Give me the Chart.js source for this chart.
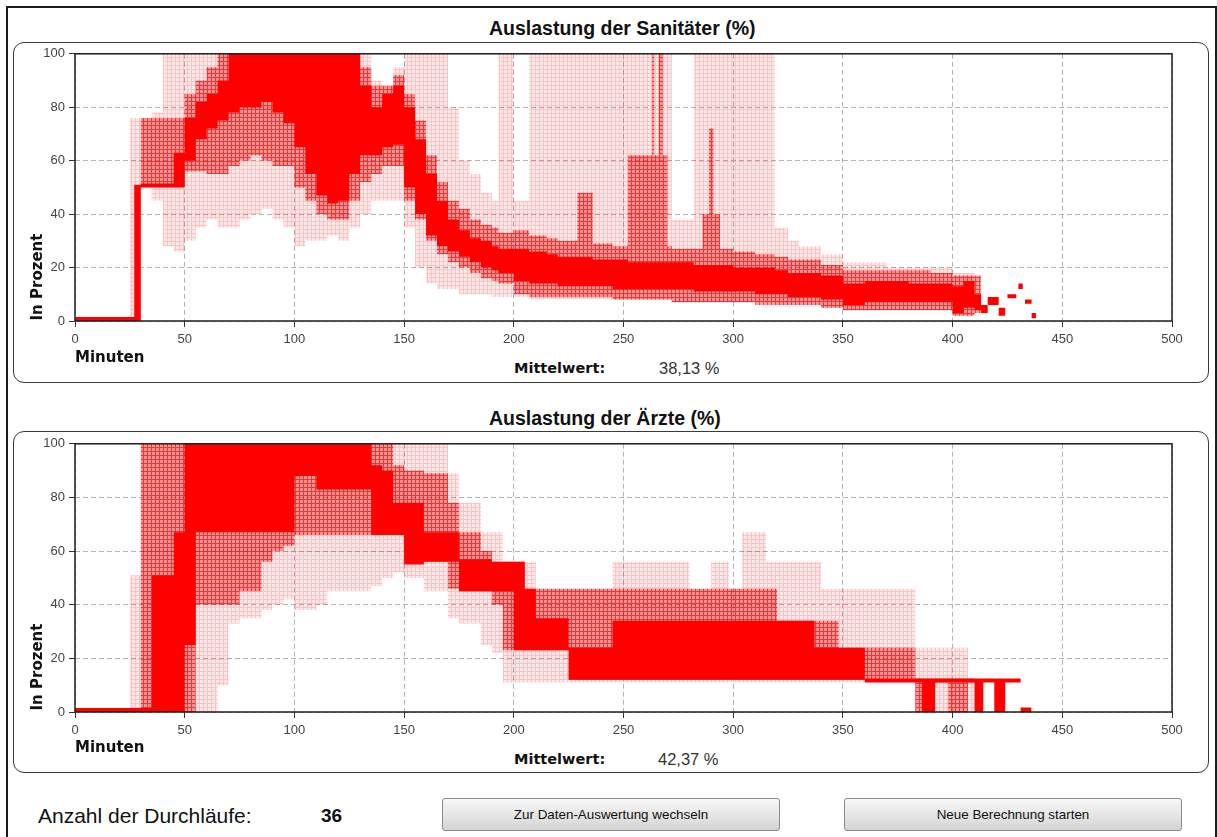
<!DOCTYPE html>
<html><head><meta charset="utf-8">
<script src="https://cdn.jsdelivr.net/npm/chart.js@4"></script>
<style>
body{margin:0;width:1217px;height:837px;background:#fff;position:relative;overflow:hidden;font-family:"Liberation Sans",Arial,sans-serif;color:#111}
.abs{position:absolute;white-space:nowrap;line-height:1}
.frame{position:absolute;left:6px;top:6px;width:1211px;height:900px;box-sizing:border-box;border:2px solid #1c1c1c}
.panel{position:absolute;left:13px;width:1196px;box-sizing:border-box;border:1.5px solid #3a3a3a;border-radius:11px}
.title{font-weight:bold;font-size:19.5px;transform:translateY(-50%);left:489px}
.axl{font-family:"DejaVu Sans",sans-serif;font-weight:bold;font-size:15px;transform:translateY(-50%)}
.mw{font-family:"DejaVu Sans",sans-serif;font-weight:bold;font-size:14.5px;transform:translateY(-50%)}
.val{font-size:16.5px;color:#333;transform:translateY(-50%)}
.yl{font-family:"DejaVu Sans",sans-serif;font-weight:bold;font-size:15px;transform:translate(-50%,-50%) rotate(-90deg)}
.btn{position:absolute;top:798px;height:33px;width:338px;box-sizing:border-box;border:1px solid #8c8c8c;border-radius:3px;background:linear-gradient(#f8f8f8,#e6e6e6 50%,#d4d4d4);font-size:13.4px;display:flex;align-items:center;justify-content:center;color:#111}
canvas{position:absolute}
</style></head><body>
<div class="frame"></div>
<div class="abs title" style="top:29px">Auslastung der Sanitäter (%)</div>
<div class="panel" style="top:42px;height:341px"></div>
<div class="abs title" style="top:419px">Auslastung der Ärzte (%)</div>
<div class="panel" style="top:431px;height:342px"></div>

<canvas id="c1" width="1170" height="309" style="left:20px;top:42px"></canvas>
<canvas id="c2" width="1170" height="310" style="left:20px;top:432px"></canvas>

<div class="abs axl" style="left:75px;top:357px">Minuten</div>
<div class="abs yl" style="left:37px;top:277px">In Prozent</div>
<div class="abs mw" style="left:514px;top:368px">Mittelwert:</div>
<div class="abs val" style="left:659px;top:368px">38,13 %</div>

<div class="abs axl" style="left:75px;top:747px">Minuten</div>
<div class="abs yl" style="left:37px;top:667px">In Prozent</div>
<div class="abs mw" style="left:514px;top:759px">Mittelwert:</div>
<div class="abs val" style="left:658px;top:759px">42,37 %</div>

<div class="abs" style="left:38px;top:815px;font-size:21px;transform:translateY(-50%)">Anzahl der Durchläufe:</div>
<div class="abs" style="left:321px;top:815px;font-size:19px;font-weight:bold;transform:translateY(-50%)">36</div>
<div class="btn" style="left:442px">Zur Daten-Auswertung wechseln</div>
<div class="btn" style="left:844px">Neue Berechnung starten</div>

<script>
// ---- Auslastung der Sanitäter (%) : envelopes of 36 runs ----
const sanMinutes = [0,25,27,30,35,40,45,50,55,60,65,70,75,80,85,90,95,100,105,110,115,120,125,130,135,140,145,150,155,160,165,170,175,180,185,190,193,200,207,215,220,229,236,245,252,263,264,266,268,270,272,282,286,289,291,294,300,310,319,325,330,340,350,360,370,380,390,400,405,410,413,416,421,424,425,429,430,432,433,436,438];
const sanLightLo = [0,1.5,40,51,45,28,26,30,35,38,35,35,38,40,42,38,35,28,30,30,32,30,35,40,45,45,45,35,20,14,12,12,10,10,10,9,9,9,8,8,8,8,8,8,8,8,8,8,8,8,7,7,7,7,7,7,7,7,6,6,6,5,4,4,4,4,4,2,2,0,0,0,0,0,0,0,0,0,0,0,0];
const sanLightHi = [0,76,76,76,78,100,100,100,100,100,100,100,100,100,100,100,100,100,100,100,100,100,100,100,90,88,95,100,100,100,100,80,60,55,48,45,100,45,100,100,100,100,100,100,100,100,100,100,100,100,38,100,100,100,100,100,100,100,35,30,28,25,22,22,20,20,20,18,18,0,0,0,0,0,0,0,0,0,0,0,0];
const sanMidLo   = [0,0,0,51,51,51,51,56,56,55,55,58,60,62,60,58,58,50,45,40,38,38,45,52,55,58,58,45,38,30,25,22,20,18,16,15,14,10,9,9,9,9,9,8,8,8,8,8,8,8,7,7,7,7,7,7,7,6,6,6,6,5,4,4,4,4,4,2,2,3,0,0,0,0,0,0,0,0,0,0,0];
const sanMidHi   = [0,0,0,76,76,76,76,85,90,95,100,100,100,100,100,100,100,100,100,100,100,100,100,95,88,88,92,85,75,62,52,45,42,38,36,35,33,34,32,31,30,48,29,28,62,100,62,100,62,28,27,27,40,72,40,27,26,25,24,23,23,21,19,19,19,19,18,17,17,17,0,0,0,0,0,0,0,0,0,0,0];
const sanCoreLo  = [0,0,0,50,50,50,50,60,68,72,75,78,80,80,82,78,74,65,55,47,44,45,55,62,62,65,66,50,40,32,28,26,24,22,20,19,18,15,14,14,13,13,13,12,12,12,12,12,12,12,12,11,11,11,11,11,11,10,10,9,9,8,6,7,7,7,7,3,5,4,3,6,2,0,8.5,0,12,0,6.5,1,0];
const sanCoreHi  = [1.5,1.5,51,51.5,51.5,51.5,63,76,82,85,90,100,100,100,100,100,100,100,100,100,100,100,100,88,80,85,88,80,68,55,45,38,34,31,30,28,27,27,26,25,24,24,23,23,22,22,22,22,22,22,22,21,21,21,21,21,20,20,19,18,18,17,14,15,15,14,14,13,15,10,6,9,5,0,10,0,14,0,8,3,0];

// ---- Auslastung der Ärzte (%) ----
const arzMinutes = [0,25,30,35,45,50,55,65,70,75,85,90,95,100,110,115,135,140,145,150,159,170,175,185,190,195,200,205,210,225,245,280,290,298,304,315,320,337,340,348,360,383,386,392,398,407,410,414,419,424,431,436];
const arzLightLo = [0,0,0,0,0,0,0,10,33,35,38,40,42,38,40,45,47,50,52,50,45,35,33,25,22,11,11,11,11,11,11,11,11,11,11,11,11,11,11,11,11,0,0,0,0,0,0,0,0,0,0,0];
const arzLightHi = [0,51,100,100,100,100,100,100,100,100,100,100,100,100,100,100,100,100,100,100,100,89,78,67,67,56,56,56,46,46,56,46,56,46,67,56,56,56,46,46,46,24,24,24,24,12.5,0,0,0,0,0,0];
const arzMidLo   = [0,0,0,0,0,0,40,40,40,45,56,60,62,66,66,66,66,66,66,60,56,46,45,45,40,23,23,23,23,12,12,12,12,12,12,12,12,12,12,12,12,0,0,11,0,11,0,0,0,0,0,0];
const arzMidHi   = [0,0,100,100,100,100,100,100,100,100,100,100,100,100,100,100,100,100,92,90,89,78,67,60,56,56,56,46,46,46,46,46,46,46,46,46,34,34,34,24,24,12.5,12.5,12.5,12.5,12.5,0,0,0,0,0,0];
const arzCoreLo  = [0,0,0,0,0,25,67,67,67,67,67,67,67,88,83,83,66,66,66,55,56,56,45,45,45,45,23,23,23,12,12,12,12,12,12,12,12,12,12,12,11,11,0,11,11,11,0,11,0,11,0,0];
const arzCoreHi  = [1.5,1.5,1.5,51,67,100,100,100,100,100,100,100,100,100,100,100,92,90,78,78,67,67,57,57,56,56,56,46,35,24,34,34,34,34,34,34,34,24,24,24,12.5,12.5,12.5,12.5,12.5,12.5,12.5,12.5,12.5,12.5,1.7,0];

const xTicksStep = 50, xMax = 500, yTicksStep = 20, yMax = 100;

function pattern(fill, line) {
  const c = document.createElement('canvas'); c.width = 4; c.height = 4;
  const g = c.getContext('2d');
  g.fillStyle = fill; g.fillRect(0, 0, 4, 4);
  g.fillStyle = line; g.fillRect(3, 0, 1, 4); g.fillRect(0, 3, 3, 1);
  return g.createPattern(c, 'repeat');
}
const lightBg = pattern('rgba(255,0,0,0.09)', 'rgba(255,0,0,0.17)');
const midBg = pattern('rgba(255,0,0,0.38)', 'rgba(215,0,0,0.55)');
const coreBg = '#ff0000';

function band(minutes, lo, hi, bg, order) {
  const pts = a => minutes.map((m, i) => ({x: m, y: a[i]}));
  const base = {borderWidth: 0, pointRadius: 0, stepped: true, tension: 0, order: order};
  return [
    Object.assign({data: pts(lo), fill: false}, base),
    Object.assign({data: pts(hi), fill: '-1', backgroundColor: bg}, base)
  ];
}

const plotBorder = {
  id: 'plotBorder',
  afterDraw(chart) {
    const a = chart.chartArea, ctx = chart.ctx;
    ctx.save(); ctx.strokeStyle = '#1e1e1e'; ctx.lineWidth = 1.5;
    ctx.strokeRect(a.left, a.top, a.right - a.left, a.bottom - a.top);
    ctx.restore();
  }
};

function makeChart(id, minutes, lLo, lHi, mLo, mHi, cLo, cHi) {
  const tickFont = {family: 'Liberation Sans', size: 13};
  return new Chart(document.getElementById(id), {
    type: 'line',
    data: {datasets: [].concat(
      band(minutes, lLo, lHi, lightBg, 2),
      band(minutes, mLo, mHi, midBg, 1),
      band(minutes, cLo, cHi, coreBg, 0))},
    options: {
      responsive: false, animation: false, events: [],
      layout: {padding: {top: 5, right: 18, left: 0, bottom: 0}},
      plugins: {legend: {display: false}, tooltip: {enabled: false}},
      scales: {
        x: {type: 'linear', min: 0, max: xMax,
            afterFit: s => { s.height = 30; },
            ticks: {stepSize: xTicksStep, color: '#444', font: tickFont, padding: 5, maxRotation: 0, autoSkip: false},
            grid: {color: '#b4b4b4', tickColor: '#333', tickLength: 6, tickBorderDash: []},
            border: {display: false, dash: [5, 3]}},
        y: {type: 'linear', min: 0, max: yMax,
            afterFit: s => { s.width = 55; },
            ticks: {stepSize: yTicksStep, color: '#444', font: tickFont, padding: 4},
            grid: {color: '#b4b4b4', tickColor: '#333', tickLength: 6, tickBorderDash: []},
            border: {display: false, dash: [5, 3]}}
      }
    },
    plugins: [plotBorder]
  });
}

makeChart('c1', sanMinutes, sanLightLo, sanLightHi, sanMidLo, sanMidHi, sanCoreLo, sanCoreHi);
makeChart('c2', arzMinutes, arzLightLo, arzLightHi, arzMidLo, arzMidHi, arzCoreLo, arzCoreHi);
</script>
</body></html>
